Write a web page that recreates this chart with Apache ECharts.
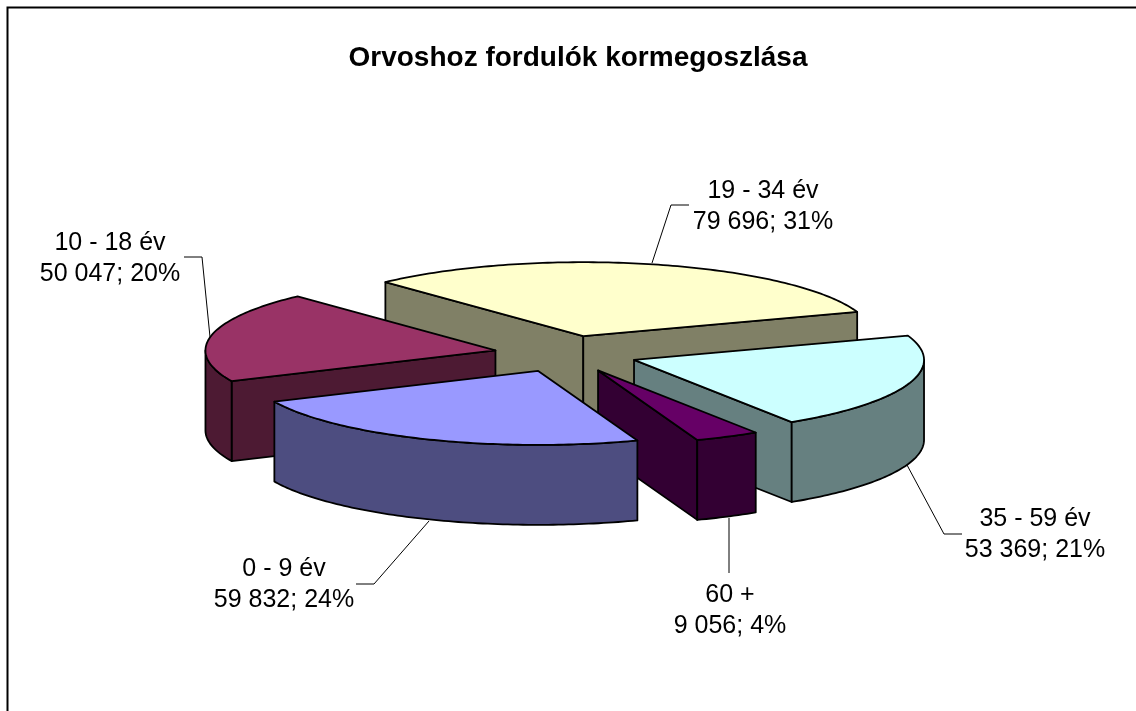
<!DOCTYPE html>
<html lang="hu">
<head>
    <meta charset="UTF-8">
    <title>Orvoshoz fordulók kormegoszlása</title>
    <script type="text/javascript" src="https://cdn.jsdelivr.net/npm/echarts@6/dist/echarts.min.js"></script>
    <style>html,body{margin:0;padding:0;background:#fff;}</style>
</head>
<body>
<div id="main" style="width:1136px;height:711px;"></div>
<script type="text/javascript">
var titleText = 'Orvoshoz fordulók kormegoszlása';
var categories = ['0 - 9 év', '10 - 18 év', '19 - 34 év', '35 - 59 év', '60 +'];
var values = [59832, 50047, 79696, 53369, 9056];
var percents = [24, 20, 31, 21, 4];      // as printed on the chart

var topColors = ['#9999FF', '#993366', '#FFFFCC', '#CCFFFF', '#660066'];
var wallColors = ['#4D4D80', '#4D1A33', '#808066', '#668080', '#330033'];

// painter's order, back slices first
var drawOrder = [2, 1, 3, 4, 0];
var firstAngle = 160;      // degrees clockwise from top
var explode = 0.248;       // in pie radii
var wallHeight = 1.08;     // in y axis units

// label centre and leader line, in px
var labelPos = [[284, 585], [110, 259], [763, 207], [1035, 535], [730, 611]];
var leaders = [
  [[356, 584], [374, 584], [429, 521]],
  [[184, 257], [202, 257], [210, 337]],
  [[689, 205], [671, 205], [652, 263]],
  [[962, 534], [944, 534], [907, 465]],
  [[729, 518], [729, 573]]
];

var total = values.reduce(function (a, b) { return a + b; }, 0);
var startAngles = [];
var endAngles = [];
var acc = firstAngle;
for (var i = 0; i < values.length; i++) {
  // keep the start of each slice inside 0..360
  if (acc >= 360) acc -= 360;
  startAngles.push(acc);
  acc += values[i] / total * 360;
  endAngles.push(acc);
}

function rad(d) { return d * Math.PI / 180; }

function renderSlice(params, api) {
  var idx = api.value(0);
  var a = startAngles[idx], b = endAngles[idx], mid = (a + b) / 2;
  var cx = explode * Math.sin(rad(mid));
  var cy = -explode * Math.cos(rad(mid));

  function pt(angle, r, h) {
    return api.coord([cx + r * Math.sin(rad(angle)), cy - r * Math.cos(rad(angle)) + h]);
  }
  function face(points, color) {
    return {
      type: 'polygon',
      shape: { points: points },
      style: { fill: color, stroke: '#000', lineWidth: 1.8, lineJoin: 'round' }
    };
  }
  var children = [];
  // cut faces, only those turned to the viewer
  if (Math.sin(rad(a)) < 0) {
    children.push(face([pt(0, 0, 0), pt(a, 1, 0), pt(a, 1, wallHeight), pt(0, 0, wallHeight)], wallColors[idx]));
  }
  if (Math.sin(rad(b)) > 0) {
    children.push(face([pt(0, 0, 0), pt(b, 1, 0), pt(b, 1, wallHeight), pt(0, 0, wallHeight)], wallColors[idx]));
  }
  // round wall, front half of the ellipse only
  var from = Math.max(a, 90), to = Math.min(b, 270);
  if (to > from) {
    var wall = [], back = [];
    for (var t = from; t < to; t += 1) {
      wall.push(pt(t, 1, 0));
      back.unshift(pt(t, 1, wallHeight));
    }
    wall.push(pt(to, 1, 0));
    back.unshift(pt(to, 1, wallHeight));
    children.push(face(wall.concat(back), wallColors[idx]));
  }
  // top
  var top = [pt(0, 0, 0)];
  for (var s = a; s < b; s += 1) {
    top.push(pt(s, 1, 0));
  }
  top.push(pt(b, 1, 0));
  children.push(face(top, topColors[idx]));
  return { type: 'group', children: children };
}

function formatValue(v) {
  return String(v).replace(/\B(?=(\d{3})+$)/g, ' ');
}

var graphics = [
  { type: 'polyline', silent: true, z: 1, shape: { points: [[7.5, 711], [7.5, 7.5], [1136, 7.5]] },
    style: { fill: 'none', stroke: '#000', lineWidth: 2 } }
];
for (var k = 0; k < categories.length; k++) {
  graphics.push({
    type: 'polyline', silent: true, z: 5, shape: { points: leaders[k] },
    style: { fill: 'none', stroke: '#000', lineWidth: 1 }
  });
  graphics.push({
    type: 'text', silent: true, z: 5, x: labelPos[k][0], y: labelPos[k][1],
    style: {
      text: categories[k] + '\n' + formatValue(values[k]) + '; ' + percents[k] + '%',
      align: 'center', verticalAlign: 'middle', lineHeight: 31,
      font: '25px "Liberation Sans", Arial, sans-serif', fill: '#000'
    }
  });
}

var myChart = echarts.init(document.getElementById('main'));
myChart.setOption({
  animation: false,
  backgroundColor: '#fff',
  title: {
    text: titleText,
    left: 573, top: 39, textAlign: 'center',
    textStyle: { fontFamily: '"Liberation Sans", Arial, sans-serif', fontSize: 28, fontWeight: 'bold', color: '#000' }
  },
  grid: { left: 276, width: 580, top: 280, height: 148 },
  xAxis: { type: 'value', min: -1, max: 1, show: false },
  yAxis: { type: 'value', min: -1, max: 1, inverse: true, show: false },
  graphic: graphics,
  series: [{
    type: 'custom',
    coordinateSystem: 'cartesian2d',
    clip: false,
    silent: true,
    renderItem: renderSlice,
    encode: { x: 0, y: 1 },
    data: drawOrder.map(function (i) { return [i, values[i]]; })
  }]
});
</script>
</body>
</html>
